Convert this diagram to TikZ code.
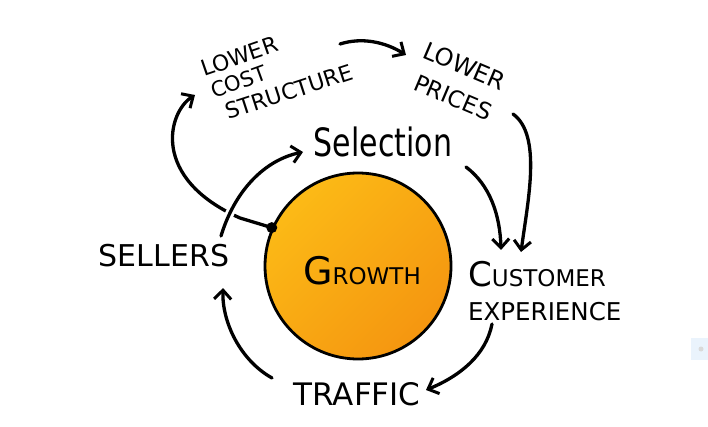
\documentclass[tikz,border=0pt]{standalone}
\usepackage{fontspec}
\setmainfont{DejaVu Sans}
\usetikzlibrary{arrows.meta}
\definecolor{orangeA}{RGB}{252,186,22}
\definecolor{orangeB}{RGB}{245,150,16}
\definecolor{tinyblue}{RGB}{234,243,252}
\tikzset{
  flow/.style={line width=3.3pt, line cap=round, -{Straight Barb[length=9pt,width=17pt,line width=3pt]}},
  lbl/.style={inner sep=0pt, align=left, text=black},
}
\newcommand{\fs}[1]{\fontsize{#1}{#1}\selectfont}
\begin{document}
\begin{tikzpicture}[x=1pt,y=-1pt]
\useasboundingbox (0,0) rectangle (708,427);
\fill[white] (0,0) rectangle (708,427);
% tiny artifact
\fill[tinyblue] (691,338) rectangle (708,360);
\fill[black!15] (701,349) circle (2.5);

% growth circle
\node[circle, minimum size=186pt, inner sep=0pt, draw, line width=2.8pt,
      top color=orangeA, bottom color=orangeB, shading angle=45] (growth) at (358,266) {};
\node[lbl, anchor=base] (gtxt) at (362,284) {\fs{38}G\fs{23}ROWTH};

% labels
\node[lbl, font=\fs{22}, rotate=19, anchor=base west] (lcs1) at (204,77) {LOWER};
\node[lbl, font=\fs{21}, rotate=20, anchor=base west] (lcs2) at (214,99) {COST};
\node[lbl, font=\fs{22}, rotate=18, anchor=base west] (lcs3) at (228,120) {STRUCTURE};
\node[lbl, font=\fs{24}, rotate=-23, anchor=base west] (lp1) at (421,57) {LOWER};
\node[lbl, font=\fs{23}, rotate=-23, anchor=base west] (lp2) at (412,89) {PRICES};
\node[lbl, font=\fs{30}, anchor=base] (sel) at (383,157) {\scalebox{1}[1.3]{Selection}};
\node[lbl, font=\fs{30}, anchor=base] (sellers) at (164,266) {SELLERS};
\node[lbl, anchor=base west] (cust) at (468,286) {\fs{34}C\fs{23}USTOMER};
\node[lbl, font=\fs{24.5}, anchor=base west] (exp) at (468,320) {EXPERIENCE};
\node[lbl, font=\fs{31}, anchor=base] (traffic) at (357,405) {TRAFFIC};

% connector endpoints
\coordinate (a1s) at (340,44);  \coordinate (a1e) at (406,55);
\coordinate (a2s) at (513,114); \coordinate (a2e) at (521,252);
\coordinate (a3s) at (466,167); \coordinate (a3e) at (501,250);
\coordinate (a4s) at (492,324); \coordinate (a4e) at (426,390);
\coordinate (a5s) at (272,378); \coordinate (a5e) at (223,288);
\coordinate (a6s) at (221,236); \coordinate (a6e) at (303,152);
\coordinate (k1)  at (240,218); \coordinate (a7e) at (195,95);
\coordinate (dot) at (growth.156);

% dot -> lower cost structure
\draw[flow] (dot) -- (k1) .. controls (150,178) and (168,112) .. (a7e);
\fill (dot) circle (5.5);

% arrows
\draw[flow] (a1s) .. controls (362,37) and (385,42) .. (a1e);
\draw[flow] (a2s) .. controls (542,135) and (528,200) .. (a2e);
\draw[flow] (a3s) .. controls (490,185) and (500,215) .. (a3e);
\draw[flow] (a4s) .. controls (486,355) and (460,376) .. (a4e);
\draw[flow] (a5s) .. controls (240,360) and (222,322) .. (a5e);
\draw[flow, preaction={draw=white, line width=9pt, -}] (a6s) .. controls (235,190) and (265,160) .. (a6e);
\end{tikzpicture}
\end{document}
